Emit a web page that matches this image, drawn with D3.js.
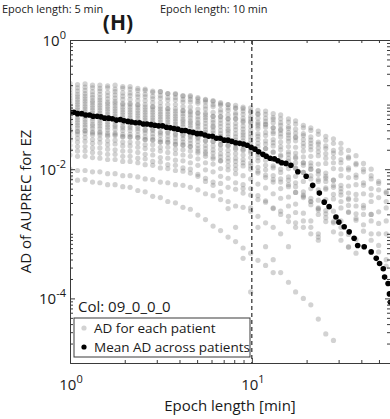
<!DOCTYPE html>
<html><head><meta charset="utf-8">
<script src="https://cdn.jsdelivr.net/npm/d3@7"></script>
<style>
body{margin:0;background:#fff}
svg{display:block}
text{font-family:"Open Sans",sans-serif;fill:#1a1a1a}
</style>
</head><body>
<svg id="c" width="390" height="419"></svg>
<script>
// ---------- DATA ----------
// Epoch lengths [min] at which each patient's AD was evaluated
const patientEpochs = [1.00,1.10,1.21,1.33,1.46,1.61,1.77,1.95,2.14,2.36,2.59,2.85,3.14,3.45,3.80,4.18,4.59,5.05,5.56,6.12,6.73,7.40,8.14,8.95,9.85,10.8,11.9,13.1,14.4,15.9,17.4,19.2,21.1,23.2,25.5,28.1,30.9,34.0,37.4,41.1,45.3,49.8,54.8];
// AD of AUPREC per patient, stored as v where AD = 10^(-v/100)
const patientADlog100 = [
[67,69,68,70,70,71,70,72,72,75,76,79,80,83,84,87,88,91,92,95,97,100,101,104,105,109,110,114,116,122,125,132,136,141,149,153,160,171,179,191,200,219,237],
[72,74,73,74,75,74,76,75,76,78,78,81,80,83,83,86,86,89,93,94,99,100,105,106,110,114,115,120,122,127,130,136,140,146,155,160,168,181,191,204,215,232,250],
[77,79,78,80,79,81,80,82,82,84,84,87,86,89,89,92,92,95,96,100,101,105,106,110,112,115,121,123,128,134,138,145,150,158,168,175,185,198,213,225,240],
[82,84,83,85,84,86,85,87,86,88,88,91,90,93,93,96,96,98,102,103,108,109,113,115,118,121,126,128,132,137,144,148,155,161,164,171,175,183,193,200,210,222,235],
[86,88,87,89,89,91,90,92,92,94,94,97,97,100,100,103,104,107,107,112,112,116,116,121,122,127,130,136,140,147,151,160,165,173,183,190,200,213,224,238,250,266,280],
[90,92,91,94,93,96,95,98,98,100,100,103,103,106,106,109,110,113,113,118,118,122,122,127,128,133,135,142,145,152,156,165,170,179,191,199,210,226,239,256,270],
[94,96,95,97,97,99,98,100,100,101,104,104,107,107,110,110,112,113,116,118,119,122,122,125,126,130,131,136,138,143,150,154,160,167,176,182,190,201,209,221,230,244,260],
[98,100,99,101,101,103,102,104,104,105,108,108,111,111,114,114,116,119,120,124,124,128,129,133,134,137,143,145,150,157,166,172,180,192,206,217,230,245],
[102,104,103,105,105,107,106,108,108,109,112,112,115,115,118,118,120,123,124,128,129,133,134,138,140,145,148,154,158,165,175,181,190,203,214,228,240,256,269,286,300,318,340],
[106,108,107,109,109,111,110,112,112,113,116,116,119,119,122,123,125,128,129,133,134,138,139,143,145,149,156,159,165,173,183,190,200,216,229,246,260,267,276],
[110,112,111,113,113,115,114,116,116,117,120,120,123,123,126,126,128,130,134,135,140,141,145,147,150,154,161,164,170,177,181,190,195,202,211,217,225,237,247,260,270,284,300],
[114,116,115,117,117,119,118,120,120,121,124,124,127,127,130,130,132,134,139,140,145,145,150,151,155,160,168,173,180,188,199,205,215,232,247,265,280],
[118,120,119,121,121,123,122,124,124,125,128,128,131,131,134,134,136,138,143,144,149,150,155,156,160,165,168,174,178,183,190,194,200,208,219,225,235,247,257,270,280,300],
[122,124,123,125,125,127,126,128,128,129,132,132,136,136,139,140,142,144,149,151,156,157,162,164,168,174,178,185,190,199,211,219,230,248,264,283,300,320],
[126,128,127,130,129,131,131,133,133,134,138,138,142,142,145,146,148,150,156,157,162,164,169,171,175,182,186,195,200,212,221,235,245,260],
[130,132,131,133,133,135,134,136,136,137,140,140,144,144,147,148,150,152,156,157,162,163,167,169,172,177,179,185,188,194,198,205,210,219,231,239,250,266,279,296,310,328,350],
[134,136,135,137,137,139,138,140,140,141,144,145,148,149,152,153,155,157,163,164,169,171,176,178,182,187,194,198,205,217,227,240,250,263,275],
[139,141,140,142,142,144,144,146,146,147,150,150,154,154,157,158,160,163,168,170,176,177,183,185,190,197,201,210,215,224,236,244,255,270,281,297,310,321,330],
[144,146,145,147,147,149,148,150,150,151,154,155,158,159,162,163,165,168,173,175,181,183,188,190,195,203,213,220,230,243,254,268,280,300],
[150,152,151,154,153,156,155,158,158,159,162,162,166,166,169,170,172,175,180,181,187,188,194,195,200,206,209,216,220,227,236,242,250,261,269,281,290,301,309,320],
[156,158,157,160,159,162,161,164,164,166,168,170,172,174,176,178,180,184,190,192,199,201,207,210,215,223,229,238,245,257,267,280,290,305],
[163,165,165,167,167,169,170,172,172,174,177,178,182,183,186,187,190,194,201,204,211,214,221,224,230,241,249,261,270,281,290],
[170,172,172,174,175,177,177,180,180,183,184,188,189,193,194,198,200,208,219,225,235,261,290,338,390],
[178,180,180,182,183,185,185,188,188,190,193,194,198,199,202,203,206,211,214,220,222,228,231,237,240,247,251,260,265,273,283,290,300,310],
[200,202,202,204,204,207,207,210,210,212,215,216,220,221,224,225,228,232,238,241,247,250,257,259,265,273,283,290,300,320],
[214,217,216,220,221,224,224,227,228,233,235,242,244,250,252,259,262,271,278,288,295,305,312,322,330,341,349,360],
[140,142,141,144,144,147,146,149,150,151,154,154,158,158,161,162,165,172,176,184,187,195,200,230,260,290,320,340,360,375,390,400,410,432,455,465]
];
// Mean AD across patients
const meanEpochs = [1.00,1.05,1.10,1.16,1.22,1.28,1.34,1.41,1.48,1.55,1.63,1.71,1.80,1.89,1.98,2.08,2.18,2.29,2.41,2.53,2.65,2.79,2.93,3.07,3.23,3.39,3.56,3.73,3.92,4.12,4.32,4.54,4.76,5.00,5.25,5.52,5.79,6.08,6.39,6.70,7.04,7.39,7.76,8.15,8.56,8.99,9.43,9.91,10.4,10.9,11.5,12.0,12.6,13.3,13.9,14.6,15.4,16.4,17.9,19.9,21.6,23.5,25.0,26.6,29.0,30.1,32.2,34.3,36.5,38.2,41.5,45.3,48.3,50.4,52.8,53.7,56.1,57.1,57.8];
const meanADlog100 = [112,112,114,114,116,116,118,118,119,121,121,122,124,123,125,126,127,128,128,130,130,131,132,133,133,135,136,137,138,140,140,142,143,145,145,147,149,149,152,152,155,155,157,159,160,161,163,166,169,173,177,180,183,184,187,190,191,194,204,211,225,237,251,258,274,282,289,297,307,318,320,328,338,346,354,367,377,393,406];

const xMajorTicks = [1, 10];
const xMinorTicks = [2,3,4,5,6,7,8,9,20,30,40,50];
const yMajorTicks = [1, 1e-2, 1e-4];
const yMinorTicks = [];
[-5,-4,-3,-2,-1].forEach(d => [1,2,3,4,5,6,7,8,9].forEach(k => { const v = k*Math.pow(10,d); if (!(k===1 && (d===-2||d===-4||d===-5))) yMinorTicks.push(v); }));
const xTickExp = ["0","1"];
const yTickExp = ["0","-2","-4"];

const titleText = "(H)";
const xLabel = "Epoch length [min]";
const yLabel = "AD of AUPREC for EZ";
const colText = "Col: 09_0_0_0";
const legendLabels = ["AD for each patient", "Mean AD across patients"];
const topTexts = ["Epoch length: 5 min", "Epoch length: 10 min"];

// ---------- CHART ----------
const svg = d3.select("#c");
const L = 70, R = 390, T = 40, B = 363;
const x = d3.scaleLog().domain([1, 57.5]).range([L, R]);
const y = d3.scaleLog().domain([1e-5, 1]).range([B, T]);
const toAD = v => Math.pow(10, -v / 100);
const axisCol = "#3a3a3a";

svg.append("rect").attr("width",390).attr("height",419).attr("fill","#fff");

svg.append("defs").append("clipPath").attr("id","clip")
  .append("rect").attr("x",L).attr("y",T).attr("width",R-L+1).attr("height",B-T);

// neighbouring panel headings (kept fully inside the picture)
svg.append("text").attr("x",2).attr("y",13).attr("font-size",11).text(topTexts[0]);
svg.append("text").attr("x",160).attr("y",13).attr("font-size",11).text(topTexts[1]);

// title
svg.append("text").attr("x",118).attr("y",30).attr("text-anchor","middle")
  .attr("font-size",21).attr("font-weight","bold").text(titleText);

const plot = svg.append("g").attr("clip-path","url(#clip)");

// patient points
patientADlog100.forEach(series => {
  plot.append("g").selectAll("circle").data(series).enter().append("circle")
    .attr("cx",(v,i)=>x(patientEpochs[i]))
    .attr("cy",v=>y(toAD(v)))
    .attr("r",2.6)
    .attr("fill","#7a7a7a")
    .attr("fill-opacity",0.34);
});

// dashed reference line at 10 min
plot.append("line").attr("x1",x(10)).attr("x2",x(10)).attr("y1",T).attr("y2",B)
  .attr("stroke","#000").attr("stroke-width",1).attr("stroke-dasharray","4,3");

// mean points
plot.append("g").selectAll("circle").data(meanADlog100).enter().append("circle")
  .attr("cx",(v,i)=>x(meanEpochs[i]))
  .attr("cy",v=>y(toAD(v)))
  .attr("r",2.8)
  .attr("fill","#000");

// axes (ticks inward, box)
function styleAxis(g){
  g.select(".domain").attr("stroke",axisCol).attr("stroke-width",1);
  g.selectAll(".tick line").attr("stroke",axisCol);
  g.selectAll(".tick text").remove();
}
const mk = (axisFn, scale, vals, size, tr) => {
  const g = svg.append("g").attr("transform",tr)
    .call(axisFn(scale).tickValues(vals).tickSize(-size).tickSizeOuter(0).tickFormat(""));
  styleAxis(g);
  return g;
};
mk(d3.axisBottom, x, xMajorTicks, 5, `translate(0,${B})`);
mk(d3.axisBottom, x, xMinorTicks, 3, `translate(0,${B})`);
mk(d3.axisTop, x, xMajorTicks, 5, `translate(0,${T})`);
mk(d3.axisTop, x, xMinorTicks, 3, `translate(0,${T})`);
mk(d3.axisLeft, y, yMajorTicks, 5, `translate(${L},0)`);
mk(d3.axisLeft, y, yMinorTicks, 3, `translate(${L},0)`);
mk(d3.axisRight, y, yMajorTicks, 5, `translate(${R},0)`);
mk(d3.axisRight, y, yMinorTicks, 3, `translate(${R},0)`);

// tick labels with superscripts
xMajorTicks.forEach((v,i) => {
  const t = svg.append("text").attr("x",x(v)+1).attr("y",390).attr("text-anchor","middle").attr("font-size",15);
  t.append("tspan").text("10");
  t.append("tspan").attr("dy",-7).attr("font-size",11).text(xTickExp[i]);
});
yMajorTicks.forEach((v,i) => {
  const t = svg.append("text").attr("x",66).attr("y",y(v)+6).attr("text-anchor","end").attr("font-size",15);
  t.append("tspan").text("10");
  t.append("tspan").attr("dy",-7).attr("font-size",11).text(yTickExp[i]);
});

// axis titles
svg.append("text").attr("x",(L+R)/2).attr("y",411).attr("text-anchor","middle").attr("font-size",15).text(xLabel);
svg.append("text").attr("transform",`translate(31,${(T+B)/2}) rotate(-90)`).attr("text-anchor","middle").attr("font-size",15).text(yLabel);

// Col label
svg.append("text").attr("x",78).attr("y",312).attr("font-size",15).text(colText);

// legend
const lg = svg.append("g");
lg.append("rect").attr("x",74).attr("y",318).attr("width",176).attr("height",39)
  .attr("fill","#fff").attr("stroke",axisCol).attr("stroke-width",1);
lg.append("circle").attr("cx",84).attr("cy",328).attr("r",2.6).attr("fill","#7a7a7a").attr("fill-opacity",0.34);
lg.append("circle").attr("cx",84).attr("cy",347).attr("r",2.6).attr("fill","#000");
lg.append("text").attr("x",94).attr("y",333).attr("font-size",13.5).text(legendLabels[0]);
lg.append("text").attr("x",94).attr("y",352).attr("font-size",13.5).text(legendLabels[1]);
</script>
</body></html>
